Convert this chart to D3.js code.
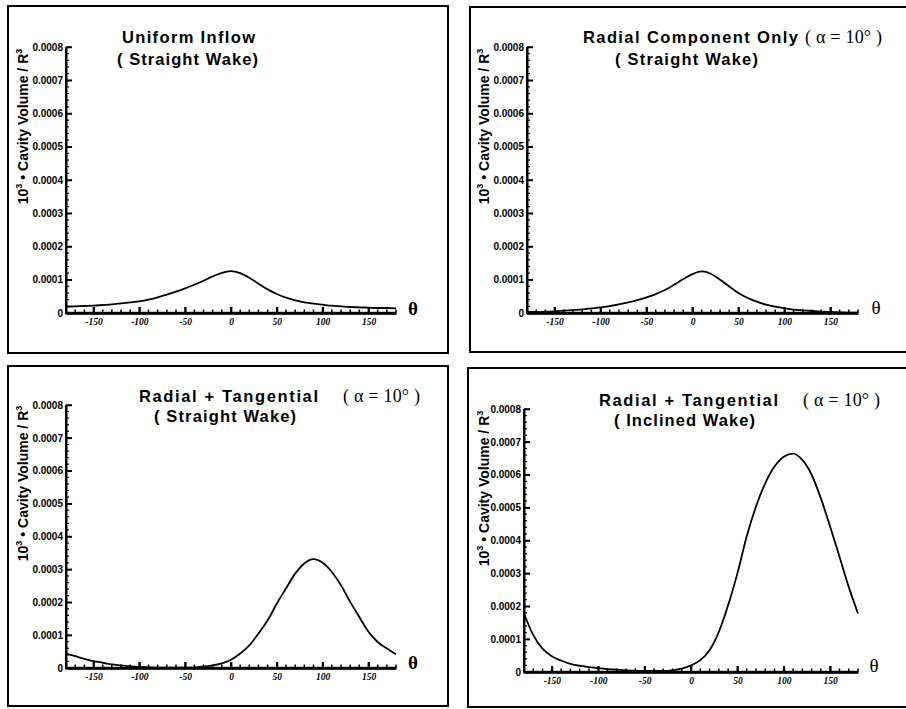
<!DOCTYPE html>
<html>
<head>
<meta charset="utf-8">
<script src="https://cdn.jsdelivr.net/npm/d3@7"></script>
<style>
  body { margin: 0; background: #fff; }
  svg { display: block; }
</style>
</head>
<body>
<div id="wrapper"></div>
<script>
'use strict';

// data - theta grid (deg) and cavity volume
const theta = [-180, -170, -160, -150, -140, -130, -120, -110, -100, -90, -80, -70, -60, -50, -40, -30, -20, -10,
  0, 10, 20, 30, 40, 50, 60, 70, 80, 90, 100, 110, 120, 130, 140, 150, 160, 170, 180];

const uniformStraight = [0.000019, 0.000020, 0.000021, 0.000022, 0.000024, 0.000026, 0.000029, 0.000032, 0.000035,
  0.000040, 0.000047, 0.000055, 0.000064, 0.000074, 0.000085, 0.000097, 0.000110, 0.000121,
  0.000126, 0.000120, 0.000106, 0.000088, 0.000071, 0.000057, 0.000046, 0.000038, 0.000032, 0.000028,
  0.000025, 0.000022, 0.000020, 0.000018, 0.000017, 0.000016, 0.000015, 0.000015, 0.000014];

const radialStraight = [0.000003, 0.000003, 0.000004, 0.000005, 0.000007, 0.000009, 0.000011, 0.000014, 0.000017,
  0.000021, 0.000026, 0.000032, 0.000039, 0.000047, 0.000057, 0.000069, 0.000085, 0.000102,
  0.000117, 0.000125, 0.000118, 0.000100, 0.000080, 0.000060, 0.000045, 0.000034, 0.000025, 0.000019,
  0.000014, 0.000010, 0.000008, 0.000006, 0.000004, 0.000003, 0.000002, 0.000001, 0.000001];

const radTanStraight = [0.000044, 0.000036, 0.000028, 0.000021, 0.000016, 0.000011, 0.000008, 0.000005, 0.000003,
  0.000002, 0.000001, 0.000001, 0.000001, 0.000001, 0.000002, 0.000004, 0.000008, 0.000014,
  0.000025, 0.000044, 0.000069, 0.000105, 0.000145, 0.000196, 0.000242, 0.000287, 0.000318, 0.000331,
  0.000320, 0.000292, 0.000252, 0.000201, 0.000155, 0.000110, 0.000079, 0.000059, 0.000042];

const radTanInclined = [0.000178, 0.000112, 0.000071, 0.000048, 0.000035, 0.000025, 0.000019, 0.000015, 0.000012,
  0.000009, 0.000007, 0.000005, 0.000004, 0.000003, 0.000003, 0.000003, 0.000005, 0.000010,
  0.000020, 0.000036, 0.000066, 0.000122, 0.000203, 0.000300, 0.000412, 0.000503, 0.000574, 0.000625,
  0.000655, 0.000664, 0.000645, 0.000600, 0.000528, 0.000442, 0.000351, 0.000259, 0.000178];

// tick values
const xMajorTicks = [-150, -100, -50, 0, 50, 100, 150];
const xMinorTicks = [-180, -170, -160, -140, -130, -120, -110, -90, -80, -70, -60, -40, -30, -20, -10,
  10, 20, 30, 40, 60, 70, 80, 90, 110, 120, 130, 140, 160, 170, 180];
const yMajorTicks = [0, 0.0001, 0.0002, 0.0003, 0.0004, 0.0005, 0.0006, 0.0007, 0.0008];
const yMinorTicks = [0.00002, 0.00004, 0.00006, 0.00008, 0.00012, 0.00014, 0.00016, 0.00018,
  0.00022, 0.00024, 0.00026, 0.00028, 0.00032, 0.00034, 0.00036, 0.00038,
  0.00042, 0.00044, 0.00046, 0.00048, 0.00052, 0.00054, 0.00056, 0.00058,
  0.00062, 0.00064, 0.00066, 0.00068, 0.00072, 0.00074, 0.00076, 0.00078];

// titles
const titleTop = ['Uniform  Inflow', 'Radial  Component  Only', 'Radial  +  Tangential', 'Radial  +  Tangential'];
const titleSub = ['( Straight  Wake)', '( Straight  Wake)', '( Straight  Wake)', '( Inclined  Wake)'];
const alphaText = ['', '( α = 10° )', '( α = 10° )', '( α = 10° )'];
const series = [uniformStraight, radialStraight, radTanStraight, radTanInclined];

// layout of the four panels (pixels)
const panels = [
  { frame: [8, 6, 448, 353], x: [66, 396], y: [313, 47],
    t1: [122, 42.5, 133], t2: [117, 65, 141], alpha: null, yLab: [28, 126.5], th: [413, 315, 'bold'] },
  { frame: [470, 7, 914, 352], x: [527, 858], y: [313, 47],
    t1: [583, 43, 215], t2: [615, 65, 143], alpha: [805, 43, 77], yLab: [489, 126.5], th: [876, 313.5, 'normal'] },
  { frame: [8, 366, 448, 706], x: [66, 396], y: [668, 405],
    t1: [139, 401.7, 179], t2: [154, 421.7, 142], alpha: [343, 401.7, 77], yLab: [28, 483.5], th: [413, 668.5, 'bold'] },
  { frame: [468, 368, 914, 707], x: [524, 858], y: [672, 409],
    t1: [599, 405.5, 179], t2: [614, 426, 141], alpha: [803, 405.5, 77], yLab: [488.5, 488.5], th: [874, 672, 'normal'] },
];

const sans = 'Liberation Sans, Arial, Helvetica, sans-serif';
const serif = 'Liberation Serif, Times New Roman, serif';

const wrapper = d3.select('#wrapper')
  .append('svg')
  .attr('width', 906)
  .attr('height', 709);

panels.forEach((p, i) => {
  const g = wrapper.append('g');

  // frame
  g.append('rect')
    .attr('x', p.frame[0])
    .attr('y', p.frame[1])
    .attr('width', p.frame[2] - p.frame[0])
    .attr('height', p.frame[3] - p.frame[1])
    .attr('fill', 'none')
    .attr('stroke', '#000')
    .attr('stroke-width', 2);

  const xScale = d3.scaleLinear().domain([-180, 180]).range(p.x);
  const yScale = d3.scaleLinear().domain([0, 0.0008]).range(p.y);

  // curve
  const lineGenerator = d3.line()
    .x((d, k) => xScale(theta[k]))
    .y(d => yScale(d))
    .curve(d3.curveMonotoneX);
  g.append('path')
    .attr('d', lineGenerator(series[i]))
    .attr('fill', 'none')
    .attr('stroke', '#000')
    .attr('stroke-width', 1.8);

  // y axis, ticks pointing inward
  const yAxis = g.append('g')
    .attr('transform', `translate(${p.x[0]},0)`)
    .call(d3.axisLeft(yScale).tickValues(yMajorTicks).tickSizeInner(-6).tickSizeOuter(0)
      .tickPadding(3).tickFormat(d => d === 0 ? '0' : d3.format('.4f')(d)));
  yAxis.select('.domain').attr('stroke', '#000').attr('stroke-width', 2);
  yAxis.selectAll('.tick line').attr('stroke', '#000').attr('stroke-width', 1.5);
  yAxis.selectAll('.tick text')
    .attr('font-family', sans)
    .attr('font-weight', 'bold')
    .attr('font-size', 10)
    .attr('fill', '#000');

  // x axis, ticks pointing inward
  const xAxis = g.append('g')
    .attr('transform', `translate(0,${p.y[0]})`)
    .call(d3.axisBottom(xScale).tickValues(xMajorTicks).tickSizeInner(-6).tickSizeOuter(0)
      .tickPadding(5).tickFormat(d => String(d)));
  xAxis.select('.domain').attr('stroke', '#000').attr('stroke-width', 2.5);
  xAxis.selectAll('.tick line').attr('stroke', '#000').attr('stroke-width', 1.8);
  xAxis.selectAll('.tick text')
    .attr('font-family', serif)
    .attr('font-style', 'italic')
    .attr('font-weight', 'bold')
    .attr('font-size', 9.5)
    .attr('fill', '#000');

  // axis lines and tick marks as filled rects from the same scales
  const x0 = xScale(-180);
  const y0 = yScale(0);
  g.append('rect')
    .attr('x', x0 - 1).attr('y', yScale(0.0008))
    .attr('width', 2).attr('height', y0 - yScale(0.0008) + 1)
    .attr('fill', '#000');
  g.append('rect')
    .attr('x', x0 - 1).attr('y', y0 - 1.2)
    .attr('width', xScale(180) - x0 + 1).attr('height', 2.5)
    .attr('fill', '#000');
  g.append('g').selectAll('rect')
    .data(yMajorTicks)
    .join('rect')
    .attr('x', x0).attr('y', d => yScale(d) - 0.75)
    .attr('width', 6).attr('height', 1.5)
    .attr('fill', '#000');
  g.append('g').selectAll('rect')
    .data(yMinorTicks)
    .join('rect')
    .attr('x', x0).attr('y', d => yScale(d) - 0.6)
    .attr('width', 3).attr('height', 1.2)
    .attr('fill', '#000');
  g.append('g').selectAll('rect')
    .data(xMajorTicks)
    .join('rect')
    .attr('x', d => xScale(d) - 0.9).attr('y', y0 - 6)
    .attr('width', 1.8).attr('height', 6)
    .attr('fill', '#000');
  g.append('g').selectAll('rect')
    .data(xMinorTicks)
    .join('rect')
    .attr('x', d => xScale(d) - 0.75).attr('y', y0 - 3.5)
    .attr('width', 1.5).attr('height', 3.5)
    .attr('fill', '#000');

  // titles
  g.append('text')
    .attr('x', p.t1[0]).attr('y', p.t1[1])
    .attr('textLength', p.t1[2])
    .attr('font-family', sans).attr('font-weight', 'bold').attr('font-size', 16.5)
    .text(titleTop[i]);
  g.append('text')
    .attr('x', p.t2[0]).attr('y', p.t2[1])
    .attr('textLength', p.t2[2])
    .attr('font-family', sans).attr('font-weight', 'bold').attr('font-size', 16.5)
    .text(titleSub[i]);
  if (p.alpha) {
    g.append('text')
      .attr('x', p.alpha[0]).attr('y', p.alpha[1])
      .attr('textLength', p.alpha[2])
      .attr('font-family', serif)
      .attr('font-size', 18)
      .text(alphaText[i]);
  }

  // y axis label
  const yl = g.append('text')
    .attr('transform', `translate(${p.yLab[0]},${p.yLab[1]}) rotate(-90)`)
    .attr('text-anchor', 'middle')
    .attr('font-family', sans).attr('font-weight', 'bold').attr('font-size', 14);
  yl.append('tspan').text('10');
  yl.append('tspan').attr('font-size', 9).attr('dy', -6).text('3');
  yl.append('tspan').attr('dy', 6).text(' • Cavity Volume / R');
  yl.append('tspan').attr('font-size', 9).attr('dy', -6).text('3');

  // theta label
  g.append('text')
    .attr('x', p.th[0]).attr('y', p.th[1])
    .attr('text-anchor', 'middle')
    .attr('font-family', serif)
    .attr('font-weight', p.th[2])
    .attr('font-size', 19)
    .text('θ');
});
</script>
</body>
</html>
